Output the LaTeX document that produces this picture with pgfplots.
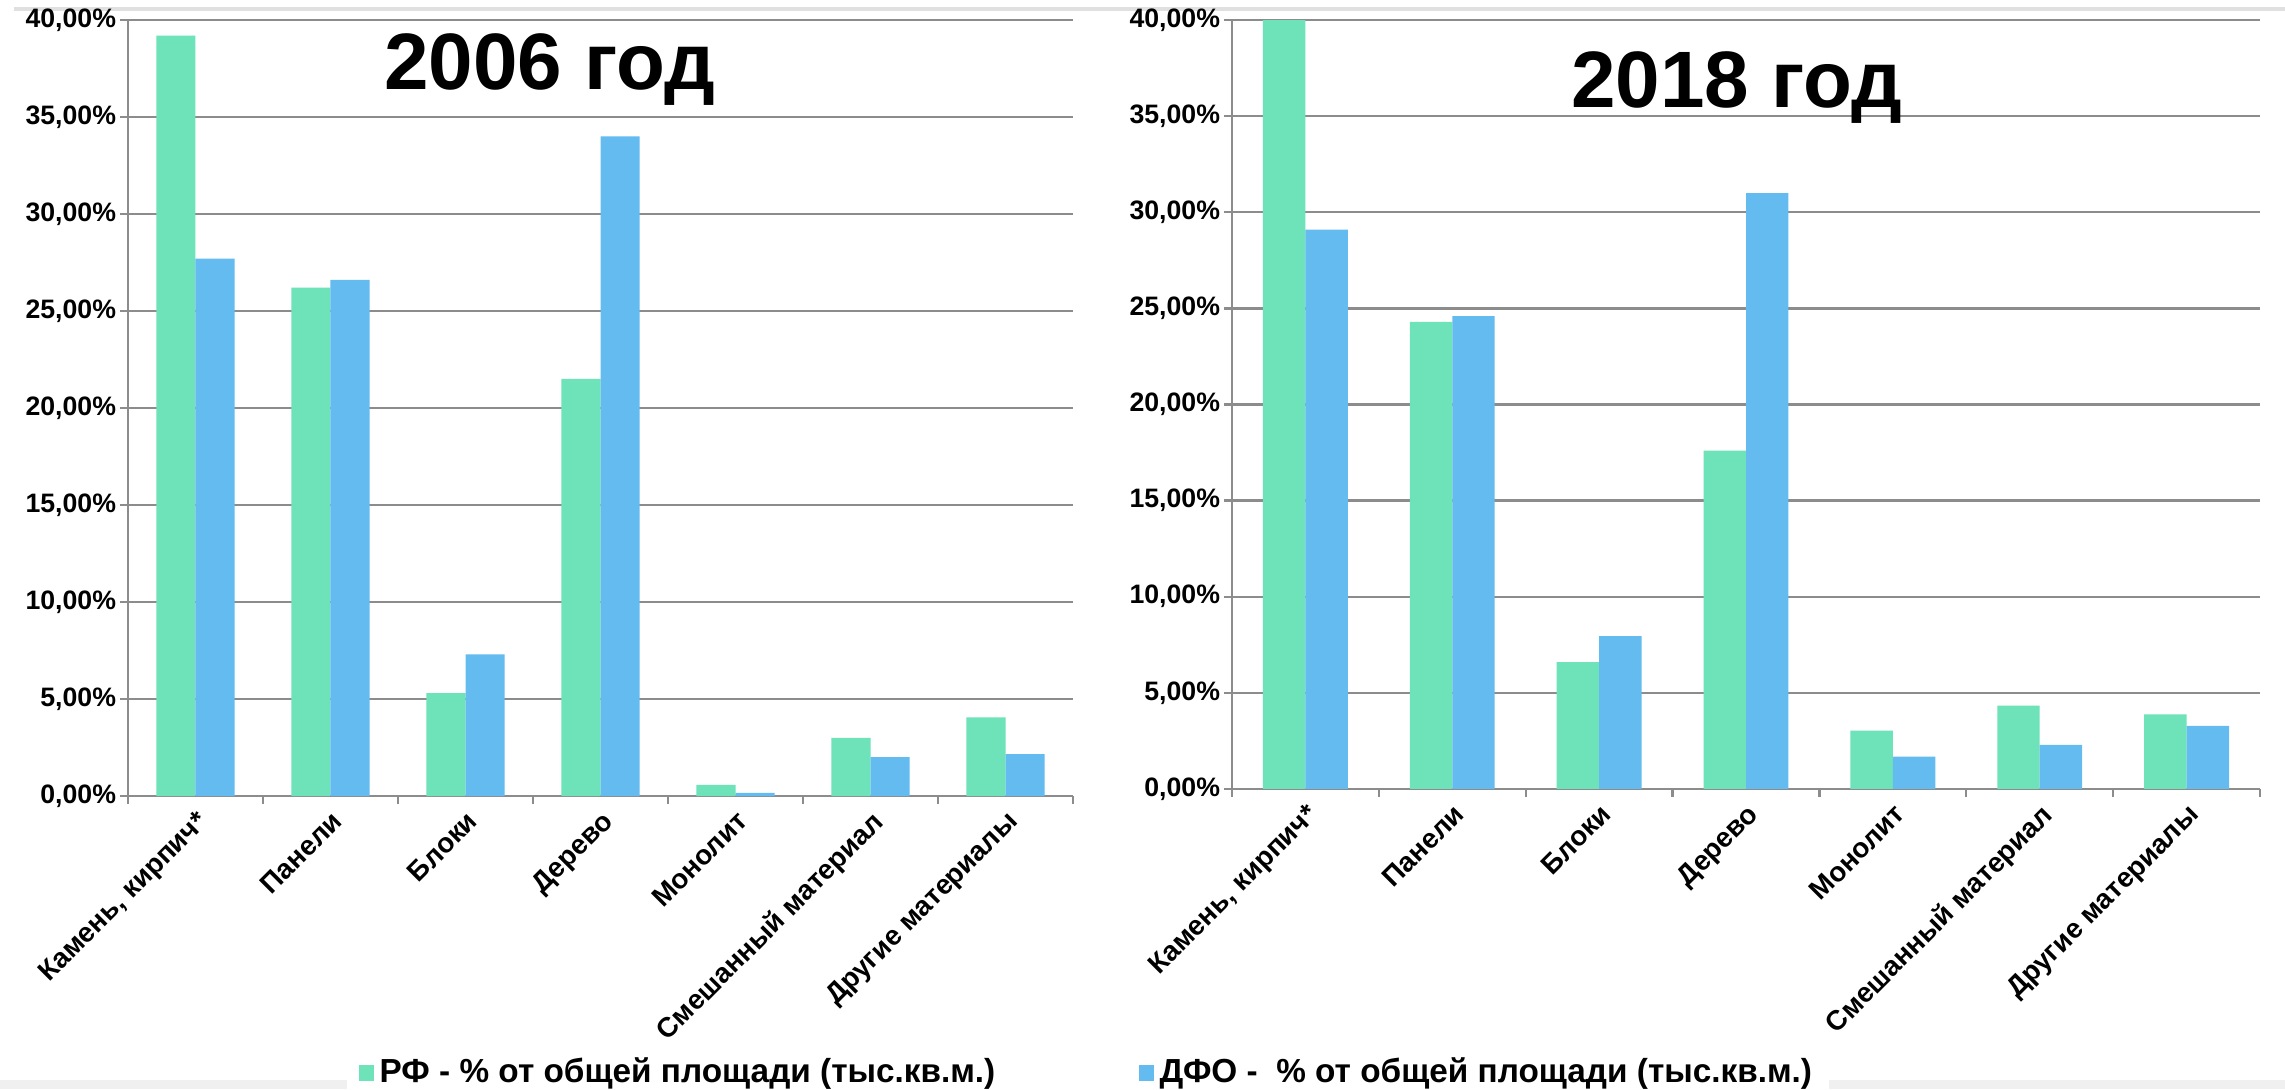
\documentclass[border=0pt]{standalone}
\usepackage{fontspec}
\setmainfont{Liberation Sans}
\usepackage{pgfplots}
\pgfplotsset{compat=1.18}

\definecolor{rfgreen}{HTML}{6EE2B9}
\definecolor{dfoblue}{HTML}{64BBF0}
\definecolor{gridgray}{HTML}{8C8C8C}

% 1 px of the reference = 0.3pt
\pgfplotsset{
  matbar/.style={
    scale only axis,
    anchor=south west,
    ybar,
    bar width=0.289,
    xmin=-0.5, xmax=6.5,
    ymin=0, ymax=40,
    enlargelimits=false,
    axis x line*=bottom,
    axis y line*=left,
    axis line style={-, draw=gridgray, line width=0.7pt},
    ymajorgrids,
    major grid style={draw=gridgray, line width=0.7pt},
    tick align=outside,
    major tick length=2.4pt,
    minor tick length=2.4pt,
    xtick={0,...,6},
    minor xtick={-0.5,0.5,...,6.5},
    major x tick style={draw=none},
    minor x tick style={draw=gridgray, line width=0.7pt},
    y tick style={draw=gridgray, line width=0.7pt},
    ytick={0,5,...,40},
    /pgf/number format/assume math mode=true,
    yticklabel={\pgfmathprintnumber[fixed,fixed zerofill,precision=2,use comma]{\tick}\%},
    yticklabel style={font=\bfseries\fontsize{8}{8}\selectfont, inner sep=1pt},
    xticklabels={{Камень, кирпич*},Панели,Блоки,Дерево,Монолит,Смешанный материал,Другие материалы},
    xticklabel style={font=\bfseries\fontsize{8.3}{8.3}\selectfont, rotate=45, anchor=north east, inner sep=1pt},
    legend style={draw=none, fill=none, inner sep=0pt, anchor=west,
      font=\bfseries\fontsize{10}{10}\selectfont,
      nodes={inner sep=0pt}, /tikz/column sep=1.8pt},
    legend image code/.code={\fill[#1] (0pt,-2.4pt) rectangle (4.5pt,2.4pt);},
  },
  rf/.style={fill=rfgreen, draw=none, bar shift=-0.1445},
  dfo/.style={fill=dfoblue, draw=none, bar shift=0.1445},
}

\begin{document}
\begin{tikzpicture}
\useasboundingbox (0,0) rectangle (685.5pt,326.7pt);
\fill[white] (0,0) rectangle (685.5pt,326.7pt);
% light bands of the slide
\fill[black!12] (4.2pt,323.4pt) rectangle (685.5pt,324.6pt);
\fill[black!6] (0pt,0pt) rectangle (104pt,2.7pt);
\fill[black!6] (548.7pt,0pt) rectangle (685.5pt,2.7pt);

% 2006
\begin{axis}[matbar,
  at={(38.4pt,87.9pt)}, width=283.5pt, height=232.8pt,
  legend style={at={(0.2434,-0.357)}},
]
\addplot[rf] coordinates {(0,39.2) (1,26.2) (2,5.3) (3,21.5) (4,0.57) (5,3.0) (6,4.05)};
\addlegendentry{РФ - \% от общей площади (тыс.кв.м.)}
\addplot[dfo, forget plot] coordinates {(0,27.7) (1,26.6) (2,7.3) (3,34.0) (4,0.16) (5,2.0) (6,2.16)};
\node[font=\bfseries\fontsize{24}{24}\selectfont, anchor=base] at (rel axis cs:0.4466,0.911) {2006 год};
\end{axis}

% 2018
\begin{axis}[matbar,
  at={(369.6pt,90pt)}, width=308.4pt, height=230.7pt,
  legend style={at={(-0.0914,-0.369)}},
]
\addplot[rf, forget plot] coordinates {(0,40.0) (1,24.3) (2,6.6) (3,17.6) (4,3.04) (5,4.34) (6,3.88)};
\addplot[dfo] coordinates {(0,29.1) (1,24.6) (2,7.95) (3,31.0) (4,1.68) (5,2.3) (6,3.28)};
\addlegendentry{ДФО -~~\% от общей площади (тыс.кв.м.)}
\node[font=\bfseries\fontsize{24}{24}\selectfont, anchor=base] at (rel axis cs:0.491,0.8856) {2018 год};
\end{axis}
\end{tikzpicture}
\end{document}
